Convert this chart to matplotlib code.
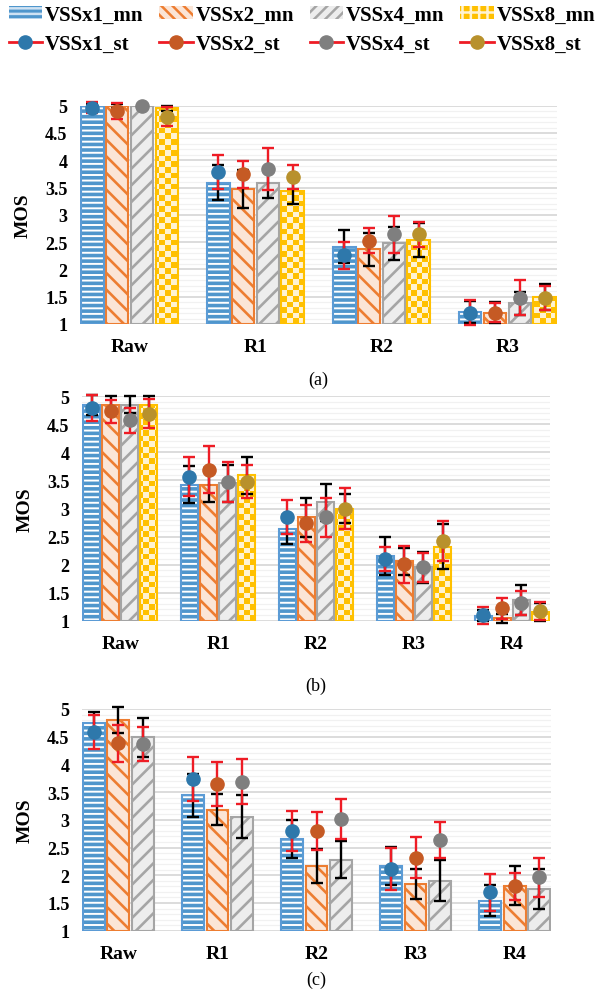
import numpy as np
import matplotlib
matplotlib.use("Agg")
import matplotlib.pyplot as plt
from matplotlib.patches import Patch
from matplotlib.lines import Line2D
from matplotlib.colors import ListedColormap
from matplotlib.ticker import MultipleLocator, FuncFormatter

# ---------------- data ----------------
series_names = ["VSSx1", "VSSx2", "VSSx4", "VSSx8"]

cats_a = ["Raw", "R1", "R2", "R3"]
a_x1_mn = [5.00, 3.59, 2.42, 1.22]
a_x2_mn = [5.00, 3.48, 2.37, 1.21]
a_x4_mn = [5.00, 3.58, 2.48, 1.38]
a_x8_mn = [4.95, 3.43, 2.54, 1.49]
a_x1_mn_err = [0.04, 0.32, 0.31, 0.20]
a_x2_mn_err = [0.04, 0.35, 0.30, 0.19]
a_x4_mn_err = [0.02, 0.28, 0.30, 0.21]
a_x8_mn_err = [0.04, 0.24, 0.31, 0.24]
a_x1_st = [4.96, 3.79, 2.26, 1.21]
a_x2_st = [4.90, 3.74, 2.53, 1.21]
a_x4_st = [5.00, 3.84, 2.64, 1.48]
a_x8_st = [4.80, 3.69, 2.64, 1.48]
a_x1_st_err = [0.10, 0.31, 0.25, 0.23]
a_x2_st_err = [0.15, 0.25, 0.23, 0.18]
a_x4_st_err = [0.00, 0.38, 0.34, 0.32]
a_x8_st_err = [0.18, 0.22, 0.22, 0.22]

cats_b = ["Raw", "R1", "R2", "R3", "R4"]
b_x1_mn = [4.85, 3.42, 2.63, 2.16, 1.09]
b_x2_mn = [4.85, 3.42, 2.84, 2.06, 1.04]
b_x4_mn = [4.85, 3.45, 3.11, 1.95, 1.37]
b_x8_mn = [4.85, 3.59, 3.00, 2.32, 1.16]
b_x1_mn_err = [0.18, 0.33, 0.26, 0.34, 0.10]
b_x2_mn_err = [0.15, 0.31, 0.34, 0.24, 0.08]
b_x4_mn_err = [0.15, 0.33, 0.33, 0.27, 0.27]
b_x8_mn_err = [0.15, 0.33, 0.26, 0.40, 0.16]
b_x1_st = [4.79, 3.57, 2.85, 2.10, 1.10]
b_x2_st = [4.73, 3.69, 2.74, 2.01, 1.22]
b_x4_st = [4.57, 3.47, 2.84, 1.95, 1.32]
b_x8_st = [4.69, 3.48, 3.00, 2.42, 1.18]
b_x1_st_err = [0.23, 0.35, 0.31, 0.21, 0.15]
b_x2_st_err = [0.21, 0.42, 0.33, 0.33, 0.19]
b_x4_st_err = [0.23, 0.35, 0.35, 0.26, 0.21]
b_x8_st_err = [0.26, 0.30, 0.36, 0.35, 0.16]

cats_c = ["Raw", "R1", "R2", "R3", "R4"]
c_x1_mn = [4.75, 3.44, 2.65, 2.17, 1.54]
c_x2_mn = [4.80, 3.18, 2.17, 1.85, 1.81]
c_x4_mn = [4.49, 3.06, 2.28, 1.90, 1.75]
c_x1_mn_err = [0.20, 0.39, 0.34, 0.34, 0.28]
c_x2_mn_err = [0.24, 0.28, 0.31, 0.27, 0.35]
c_x4_mn_err = [0.35, 0.38, 0.33, 0.37, 0.36]
c_x1_st = [4.58, 3.74, 2.80, 2.11, 1.69]
c_x2_st = [4.38, 3.65, 2.80, 2.32, 1.80]
c_x4_st = [4.37, 3.69, 3.02, 2.64, 1.96]
c_x1_st_err = [0.31, 0.40, 0.36, 0.38, 0.33]
c_x2_st_err = [0.34, 0.40, 0.35, 0.37, 0.25]
c_x4_st_err = [0.31, 0.40, 0.36, 0.33, 0.35]

panel_labels = ["(a)", "(b)", "(c)"]

# ---------------- style ----------------
W, H = 600, 995
SERIF = ["Liberation Serif", "DejaVu Serif"]
plt.rcParams["font.family"] = SERIF
plt.rcParams["hatch.linewidth"] = 1.8

BAR_EDGE = ["#5b9bd5", "#ed7d31", "#a5a5a5", "#ffc000"]
BAR_FACE = ["#4f96cc", "#fbe5d6", "#ededed", "#ffc000"]
MARK = ["#2e78ab", "#c55a24", "#7f7f7f", "#b8912c"]
YELLOW_LIGHT = "#fff3d1"
RED = "#ee1c25"

fig = plt.figure(figsize=(W / 100, H / 100), dpi=100)


def px_axes(left, right, top, bottom):
    return fig.add_axes([left / W, 1 - bottom / H, (right - left) / W, (bottom - top) / H])


def set_hlw(p, w):
    if hasattr(p, "set_hatch_linewidth"):
        p.set_hatch_linewidth(w)


def draw_panel(ax, cats, mns, mn_errs, sts, st_errs, series_idx, gw, wpx, hpx):
    n = len(cats)
    k = len(mns)
    x = np.arange(n)
    bw = gw / k
    x0, x1 = -gw / 2, n - 1 + gw / 2
    sq = 5.6
    nx = int(round(wpx / sq))
    ny = int(round(hpx / sq))
    checker = (np.add.outer(np.arange(ny), np.arange(nx)) % 2).astype(float)
    for j in range(k):
        s = series_idx[j]
        xs = x - gw / 2 + bw * (j + 0.5)
        mn = np.array(mns[j])
        heights = mn - 1
        dw = bw * 0.9
        if s == 0:
            bars = ax.bar(xs, heights, dw, bottom=1, facecolor=BAR_FACE[0], edgecolor="white",
                          hatch="---", linewidth=0, zorder=2)
            for p in bars:
                set_hlw(p, 1.4)
            ax.bar(xs, heights, dw, bottom=1, facecolor="none", edgecolor=BAR_EDGE[0],
                   linewidth=1.5, zorder=2.1)
        elif s == 1:
            bars = ax.bar(xs, heights, dw, bottom=1, facecolor=BAR_FACE[1], edgecolor=BAR_EDGE[1],
                          hatch="\\\\", linewidth=1.5, zorder=2)
            for p in bars:
                set_hlw(p, 1.9)
        elif s == 2:
            bars = ax.bar(xs, heights, dw, bottom=1, facecolor=BAR_FACE[2], edgecolor=BAR_EDGE[2],
                          hatch="//", linewidth=1.5, zorder=2)
            for p in bars:
                set_hlw(p, 1.9)
        else:
            bars = ax.bar(xs, heights, dw, bottom=1, facecolor="none", edgecolor=BAR_EDGE[3],
                          linewidth=1.5, zorder=2.1)
            for p in bars:
                im = ax.imshow(checker, cmap=ListedColormap([BAR_FACE[3], YELLOW_LIGHT]),
                               extent=(x0, x1, 1, 5), aspect="auto", interpolation="nearest",
                               origin="lower", zorder=1.9)
                im.set_clip_path(p)
        eb = ax.errorbar(xs, mn, yerr=mn_errs[j], fmt="none", ecolor="black", elinewidth=1.7,
                         capsize=4, capthick=1.7, zorder=4)
        for ch in eb.get_children():
            ch.set_clip_on(False)
        eb2 = ax.errorbar(xs, sts[j], yerr=st_errs[j], fmt="none", ecolor=RED, elinewidth=1.7,
                          capsize=4, capthick=1.7, zorder=5)
        for ch in eb2.get_children():
            ch.set_clip_on(False)
        ax.plot(xs, sts[j], "o", ms=9.5, color=MARK[s], mec=MARK[s], zorder=6, clip_on=False)

    ax.set_xlim(x0, x1)
    ax.set_ylim(1, 5)
    ax.set_xticks(x)
    ax.set_xticklabels(cats, fontsize=14, fontweight="bold")
    ax.yaxis.set_major_locator(MultipleLocator(0.5))
    ax.yaxis.set_minor_locator(MultipleLocator(0.1))
    ax.yaxis.set_major_formatter(FuncFormatter(lambda v, p: "%g" % v))
    ax.tick_params(axis="y", which="both", length=0, pad=9, labelsize=13)
    ax.tick_params(axis="x", length=0, pad=10)
    for t in ax.get_yticklabels():
        t.set_fontweight("bold")
    ax.grid(axis="y", which="major", color="#d9d9d9", linewidth=1.3, zorder=0)
    ax.grid(axis="y", which="minor", color="#f1f1f1", linewidth=0.9, zorder=0)
    ax.set_axisbelow(True)
    for sp in ax.spines.values():
        sp.set_visible(False)
    ax.set_ylabel("MOS", fontsize=14, fontweight="bold", labelpad=10)


la, ra, ta, ba = 80, 557, 106.7, 325
ax_a = px_axes(la, ra, ta, ba)
draw_panel(ax_a, cats_a,
           [a_x1_mn, a_x2_mn, a_x4_mn, a_x8_mn],
           [a_x1_mn_err, a_x2_mn_err, a_x4_mn_err, a_x8_mn_err],
           [a_x1_st, a_x2_st, a_x4_st, a_x8_st],
           [a_x1_st_err, a_x2_st_err, a_x4_st_err, a_x8_st_err],
           [0, 1, 2, 3], 0.786, ra - la, ba - ta)

lb, rb, tb, bb = 82, 550, 397.3, 621.7
ax_b = px_axes(lb, rb, tb, bb)
draw_panel(ax_b, cats_b,
           [b_x1_mn, b_x2_mn, b_x4_mn, b_x8_mn],
           [b_x1_mn_err, b_x2_mn_err, b_x4_mn_err, b_x8_mn_err],
           [b_x1_st, b_x2_st, b_x4_st, b_x8_st],
           [b_x1_st_err, b_x2_st_err, b_x4_st_err, b_x8_st_err],
           [0, 1, 2, 3], 0.78, rb - lb, bb - tb)

lc, rc, tc, bc = 82, 551, 710, 931.7
ax_c = px_axes(lc, rc, tc, bc)
draw_panel(ax_c, cats_c,
           [c_x1_mn, c_x2_mn, c_x4_mn],
           [c_x1_mn_err, c_x2_mn_err, c_x4_mn_err],
           [c_x1_st, c_x2_st, c_x4_st],
           [c_x1_st_err, c_x2_st_err, c_x4_st_err],
           [0, 1, 2], 0.735, rc - lc, bc - tc)

for lab, (l, r), ypx in zip(panel_labels, [(la, ra), (lb, rb), (lc, rc)], [380, 686, 980]):
    fig.text((l + r) / 2 / W, 1 - ypx / H, lab, ha="center", va="center", fontsize=13)

# legend
handles = []
labels = []
for s, nm in enumerate(series_names):
    if s == 0:
        h = Patch(facecolor=BAR_FACE[0], edgecolor="#cfe2f3", hatch="---", linewidth=0)
    elif s == 1:
        h = Patch(facecolor=BAR_FACE[1], edgecolor=BAR_EDGE[1], hatch="\\\\\\", linewidth=0)
    elif s == 2:
        h = Patch(facecolor=BAR_FACE[2], edgecolor=BAR_EDGE[2], hatch="///", linewidth=0)
    else:
        h = Patch(facecolor=BAR_FACE[3], edgecolor=YELLOW_LIGHT, hatch="++", linewidth=0)
    handles.append(h)
    labels.append(nm + "_mn")
    handles.append(Line2D([], [], color=RED, lw=2, marker="o", ms=9.5, mfc=MARK[s], mec=MARK[s]))
    labels.append(nm + "_st")

fig.legend(handles, labels, ncol=4, loc="upper center", bbox_to_anchor=(302 / W, 1 - 2 / H),
           frameon=False, prop={"family": SERIF, "weight": "bold", "size": 15},
           handlelength=1.6, handleheight=0.6, handletextpad=0.15, columnspacing=0.75,
           labelspacing=0.4, borderpad=0.1, borderaxespad=0.1)

fig.savefig("out.png", dpi=100)
